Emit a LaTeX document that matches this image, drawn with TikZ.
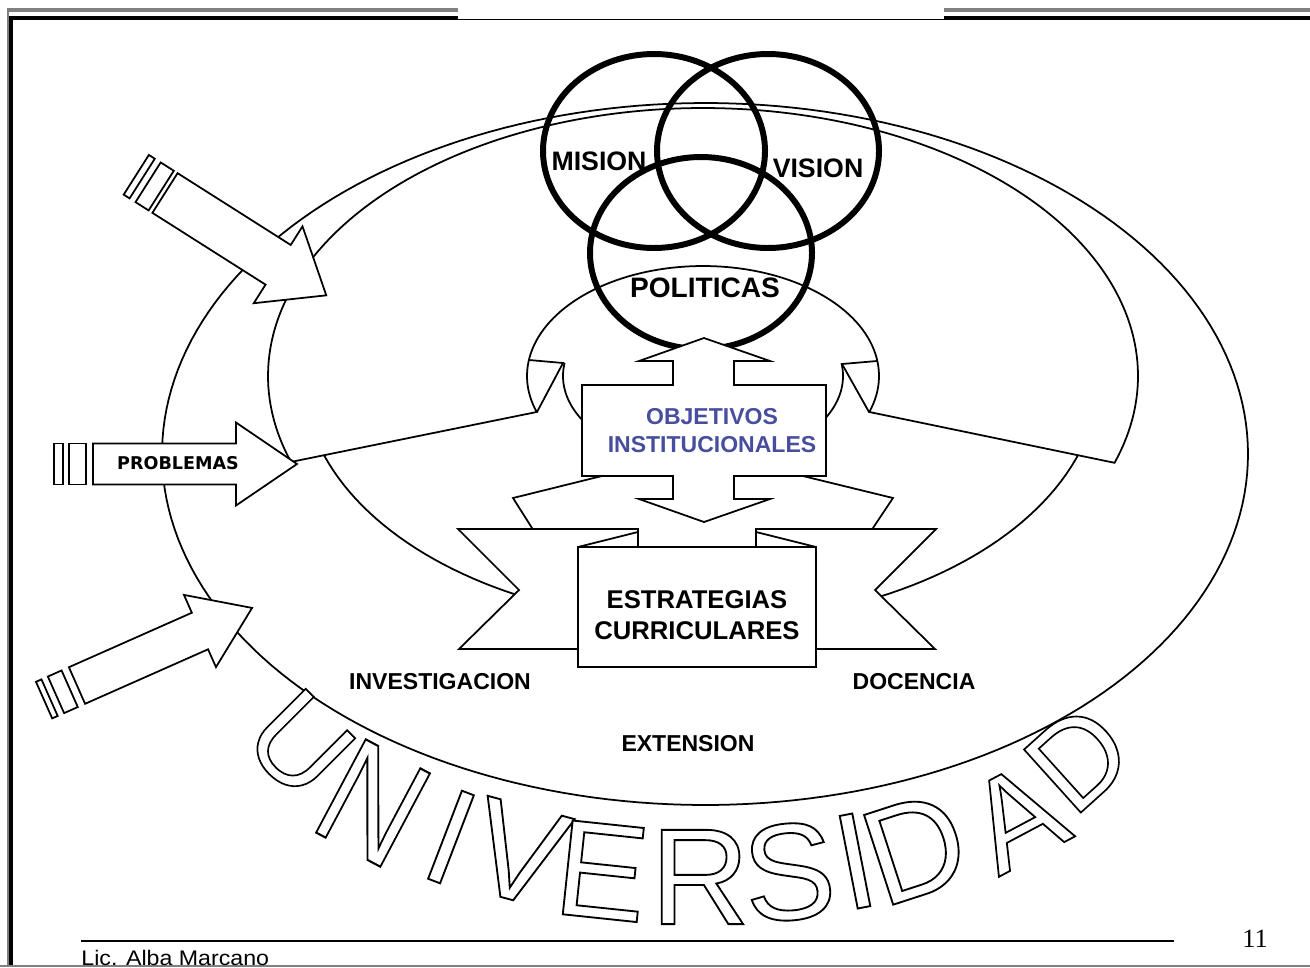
\documentclass[tikz,border=0pt]{standalone}
\usepackage{fontspec}
\newfontfamily\arial{Liberation Sans}
\newfontfamily\verd{DejaVu Sans}
\newfontfamily\serifnum{Liberation Serif}
\definecolor{objblue}{RGB}{72,78,158}
\newcommand\outl[1]{{\color{white}\special{pdf:literal direct 2 Tr 0 G 1.05 w}#1\special{pdf:literal direct 0 Tr}}}
\begin{document}
\begin{tikzpicture}[x=0.02cm,y=-0.02cm,
  ln/.style={line width=1pt},
  shp/.style={draw, line width=1pt, fill=white},
  ring/.style={draw, line width=3.4pt},
  lab/.style={inner sep=0pt, anchor=base},
  big/.style={lab, font=\arial\bfseries\fontsize{15.2}{16}\selectfont},
  mid/.style={lab, font=\arial\bfseries\fontsize{13.1}{14}\selectfont},
  uv/.style={inner sep=0pt, font=\arial\fontsize{78}{80}\selectfont}]
\useasboundingbox (0,0) rectangle (1310,967);
\fill[white] (0,0) rectangle (1310,967);
% frame
\draw[gray, line width=2.3pt] (7,10) -- (458,10) (944,10) -- (1310,10);
\draw[gray, line width=1.1pt] (8,8) -- (8,967);
\draw[line width=2.3pt] (9,18) -- (458,18) (944,18) -- (1310,18);
\draw[line width=0.6pt] (458,19.5) -- (944,19.5);
\draw[line width=2.3pt] (11,16) -- (11,967);
\draw[gray, line width=1.1pt] (0,966) -- (1310,966);
% outer ellipse E1
\draw[ln] plot[domain=0:360, samples=220] ({705+543*cos(\x)},{454+351*sin(\x)}) -- cycle;
% ellipse E5
\draw[ln] plot[domain=0:360, samples=200] ({701+398*cos(\x)},{376+247*sin(\x)}) -- cycle;
% crescent band S1
\filldraw[shp] plot[domain=161.3:378.9, samples=160] ({703+435*cos(\x)},{376+268*sin(\x)})
  -- plot[domain=379.1:160.9, samples=100] ({703+176*cos(\x)},{376+110*sin(\x)}) -- cycle;
% inner details
\draw[ln] (537,412) -- (563,363) -- (529,360);
\draw[ln] (869,412) -- (842,364) -- (877,361);
\draw[ln] plot[domain=148:188.6, samples=30] ({703+140*cos(\x)},{376+87*sin(\x)});
\draw[ln] plot[domain=-8:32, samples=30] ({703+140*cos(\x)},{376+87*sin(\x)});
% input arrows
\begin{scope}[shift={(165,193)}, rotate=-32.4]
  \filldraw[shp] (0,-23.5) -- (134,-23.5) -- (134,-45.5) -- (191,0) -- (134,45.5) -- (134,23.5) -- (0,23.5) -- cycle;
  \filldraw[shp] (-20,-23.5) rectangle (-4.5,23.5);
  \filldraw[shp] (-34,-23.5) rectangle (-27,23.5);
\end{scope}
\begin{scope}[shift={(93,464)}]
  \filldraw[shp] (0,-20.5) -- (143,-20.5) -- (143,-41.5) -- (204,0) -- (143,41.5) -- (143,20.5) -- (0,20.5) -- cycle;
  \filldraw[shp] (-24,-20.5) rectangle (-7,20.5);
  \filldraw[shp] (-39,-20.5) rectangle (-30,20.5);
\end{scope}
\begin{scope}[shift={(77,685.5)}, rotate=23.9]
  \filldraw[shp] (0,-20) -- (134.5,-20) -- (134.5,-39.5) -- (191.5,0) -- (134.5,39.5) -- (134.5,20) -- (0,20) -- cycle;
  \filldraw[shp] (-23,-20) rectangle (-8,20);
  \filldraw[shp] (-36,-20) rectangle (-30,20);
\end{scope}
\node[lab, font=\verd\bfseries\fontsize{10}{12}\selectfont] (prob) at (178,469) {PROBLEMAS};
% circles
\draw[ring] plot[domain=0:360, samples=140] ({654+111*cos(\x)},{151+97*sin(\x)}) -- cycle;
\draw[ring] plot[domain=0:360, samples=140] ({768+111*cos(\x)},{151+97*sin(\x)}) -- cycle;
\draw[ring] plot[domain=0:360, samples=140] ({701+111*cos(\x)},{253+96*sin(\x)}) -- cycle;
% wings
\draw[ln] (612,473.5) -- (513,498) -- (536,534.3);
\draw[ln] (793,473.6) -- (893,498) -- (869,534);
% objectives up-down arrow
\filldraw[shp] (582,385) -- (673,385) -- (673,361) -- (639,361) -- (704,338) -- (770,361) -- (734,361) -- (734,385)
  -- (826,385) -- (826,476) -- (734,476) -- (734,499) -- (770,499) -- (704,522) -- (639,499) -- (673,499)
  -- (673,476) -- (582,476) -- cycle;
% ribbon
\filldraw[shp] (458,529) -- (638,529) -- (638,547) -- (578,547) -- (578,649) -- (459,649) -- (519,590) -- cycle;
\filldraw[shp] (936,529) -- (756,529) -- (756,547) -- (816,547) -- (816,649) -- (935,649) -- (875,590) -- cycle;
\filldraw[shp] (578,547) rectangle (816,667);
\draw[ln] (578,547) -- (638,532);
\draw[ln] (816,547) -- (756,532);
% texts
\node[big] (mis) at (599,170) {MISION};
\node[big] (vis) at (818,177) {VISION};
\node[lab, font=\arial\bfseries\fontsize{16}{18}\selectfont] (pol) at (705,297) {POLITICAS};
\node[mid, text=objblue] (obj1) at (712,424) {OBJETIVOS};
\node[mid, text=objblue] (obj2) at (712,452) {INSTITUCIONALES};
\node[lab, font=\arial\bfseries\fontsize{14.6}{16}\selectfont] (est1) at (697,608) {ESTRATEGIAS};
\node[lab, font=\arial\bfseries\fontsize{14.6}{16}\selectfont] (est2) at (697,639) {CURRICULARES};
\node[mid] (inv) at (440,689) {INVESTIGACION};
\node[mid] (doc) at (914,689) {DOCENCIA};
\node[mid] (ext) at (688,751) {EXTENSION};
% UNIVERSIDAD
\node[uv, rotate=-45, scale=.9] (l1) at (300,744) {\outl{U}};
\node[uv, rotate=-28, xscale=.95, yscale=1.12] (l2) at (373,803) {\outl{N}};
\node[uv, rotate=-21] (l3) at (451,837) {\outl{I}};
\node[uv, rotate=-15] (l4) at (519,853) {\outl{V}};
\node[uv, rotate=-6] (l5) at (602,871) {\outl{E}};
\node[uv] (l6) at (700,877) {\outl{R}};
\node[uv, rotate=5] (l7) at (789,872) {\outl{S}};
\node[uv, rotate=11] (l8) at (855,861) {\outl{I}};
\node[uv, rotate=18] (l9) at (915,848) {\outl{D}};
\node[uv, rotate=28, scale=.95] (l10) at (1016,817) {\outl{A}};
\node[uv, rotate=42, scale=.9] (l11) at (1078,758) {\outl{D}};
% footer
\draw[line width=0.9pt] (81,941) -- (1174,941);
\node[anchor=base west, inner sep=0pt, xscale=1.1, font=\arial\fontsize{12}{14}\selectfont] (lic) at (81,965) {Lic. Alba Marcano};
\node[lab, font=\serifnum\fontsize{15}{16}\selectfont] (pg) at (1255,947) {11};
\end{tikzpicture}
\end{document}
